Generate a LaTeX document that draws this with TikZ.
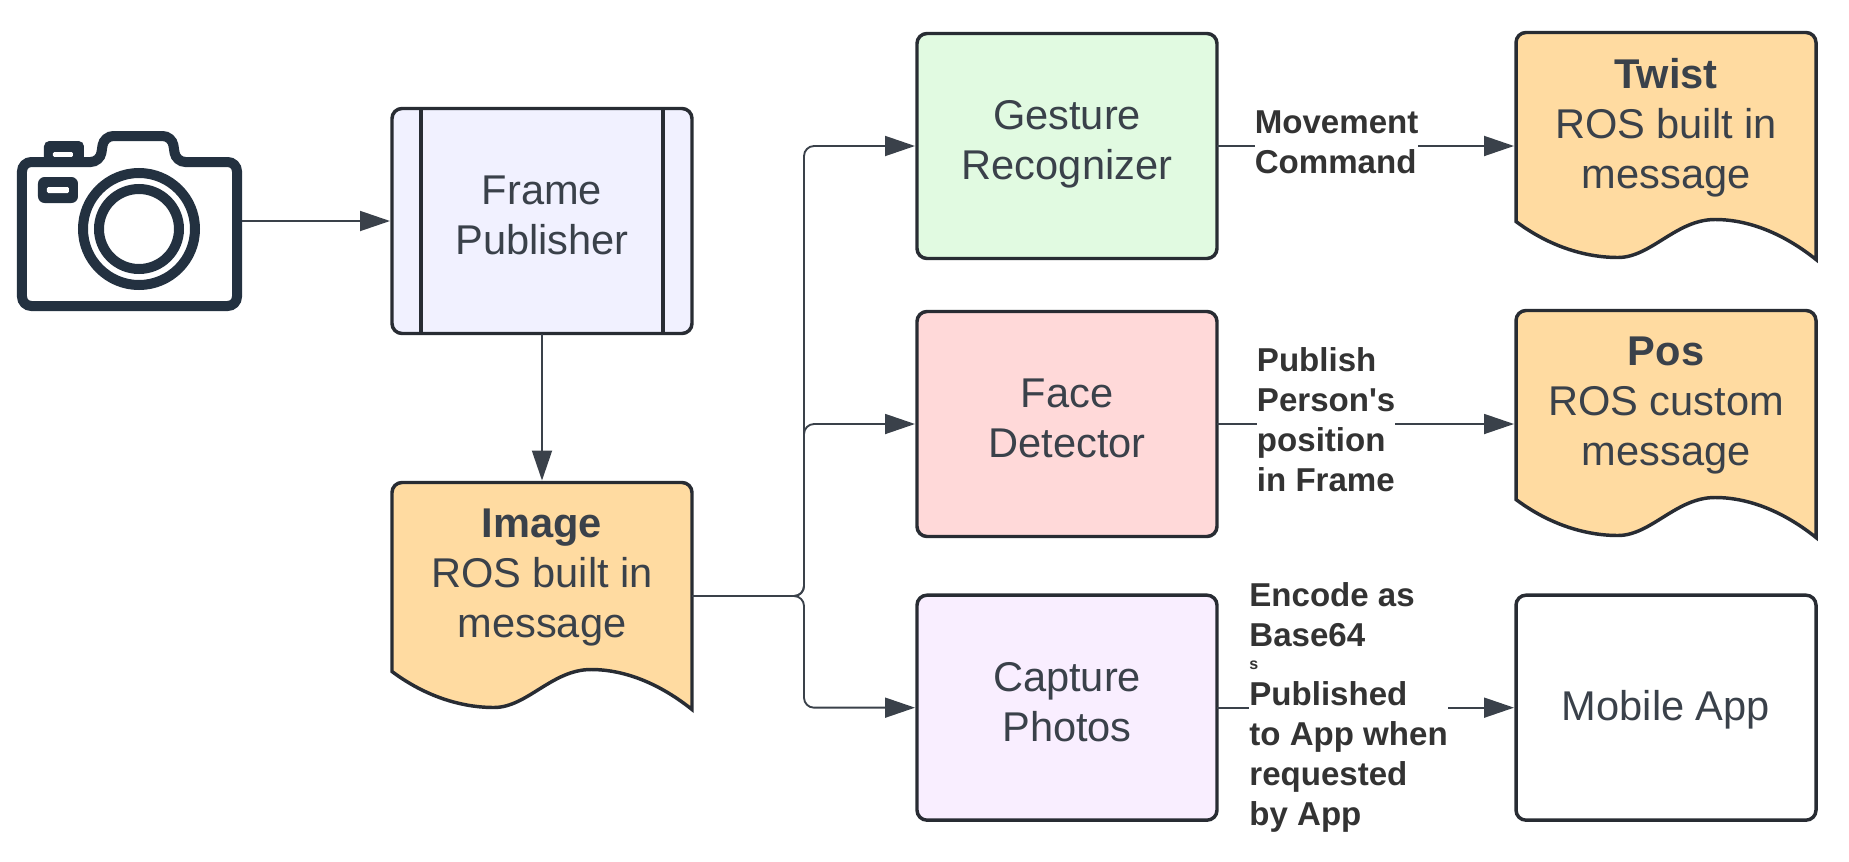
\documentclass[tikz,border=0pt]{standalone}
\usepackage{fontspec}
\setmainfont{Liberation Sans}[Ligatures=TeXOff]
\usepackage{xcolor}
\usepackage{tikz}
\usetikzlibrary{arrows.meta,positioning,calc,backgrounds}
\definecolor{linecol}{HTML}{282C33}
\definecolor{arrcol}{HTML}{3A414A}
\definecolor{camcol}{HTML}{233140}
\definecolor{framecol}{HTML}{F1F1FF}
\definecolor{gesturecol}{HTML}{E1FAE1}
\definecolor{facecol}{HTML}{FFD9D9}
\definecolor{photocol}{HTML}{F9EEFF}
\definecolor{doccol}{HTML}{FFDBA1}
\newcommand{\docgap}{\\[-14.5pt]\mbox{}}
\newcommand{\boxtop}{\rule{0pt}{28.75pt}}
\newcommand{\boxgap}{\rule[-9pt]{0pt}{1pt}}
\newcommand{\docwave}[1]{%
  \begin{scope}[on background layer,shift={(#1.south west)}]
    \draw[line width=2.6pt,draw=linecol,fill=doccol,line join=miter]
      (0,38) .. controls (32,14) and (68,2) .. (102,2)
      .. controls (135,2) and (160,40) .. (199,40)
      .. controls (235,40) and (270,24) .. (300,0)
      [rounded corners=7.5pt] -- (300,227) -- (0,227) [sharp corners] -- cycle;
  \end{scope}}
\begin{document}
\begin{tikzpicture}[
  x=0.75pt,y=0.75pt,
  box/.style={draw=linecol,line width=2.6pt,rounded corners=7.5pt,minimum width=225pt,
              minimum height=168.75pt,outer sep=0pt,align=center,text=arrcol,
              font=\fontsize{31.2pt}{37.5pt}\selectfont,
              execute at begin node=\boxtop},
  docbox/.style={minimum width=225pt,minimum height=170.25pt,outer sep=0pt,align=center,
              text=arrcol,font=\fontsize{31.2pt}{37.5pt}\selectfont,
              execute at begin node=\strut},
  lbl/.style={fill=white,align=left,inner sep=0pt,text=black!80,
              font=\bfseries\fontsize{24.8pt}{30pt}\selectfont},
  arr/.style={-{Triangle[length=22.5pt,width=15pt]},line width=1.4pt,draw=arrcol,
              shorten >=1.5pt}
]
\useasboundingbox (-130,221) rectangle (1719,-640);
\node[minimum width=168pt,minimum height=135pt,outer sep=0pt] (camera) at (0,0) {};
\node[box,fill=framecol,right=112.5pt of camera] (frame) {Frame\\Publisher\boxgap};
\node[docbox,below=111.75pt of frame] (image) {\textbf{Image}\\ROS built in\\message\docgap};
\node[box,fill=gesturecol,right=168.75pt of frame,yshift=56.25pt] (gesture) {Gesture\\Recognizer\boxgap};
\node[box,fill=facecol,below=39.75pt of gesture] (face) {Face\\Detector\boxgap};
\node[box,fill=photocol,below=44pt of face] (photos) {Capture\\Photos\boxgap};
\node[docbox,right=224.25pt of gesture] (twist) {\textbf{Twist}\\ROS built in\\message\docgap};
\node[docbox,right=224.25pt of face] (pos) {\textbf{Pos}\\ROS custom\\message\docgap};
\node[box,right=224.25pt of photos] (app) {Mobile App\boxgap};
\docwave{image}
\docwave{twist}
\docwave{pos}
% camera icon
\begin{scope}[shift={(camera.center)},line width=7.5pt,draw=camcol]
  \fill[camcol,rounded corners=4pt] (-86,55) -- (-86,80) -- (-46,80) -- (-46,55) -- cycle;
  \fill[white,rounded corners=1pt] (-77,64) -- (-77,69) -- (-57,69) -- (-57,64) -- cycle;
  \draw[camcol,fill=white,rounded corners=7pt] (-108,59) -- (-30,59) -- (-26,85) -- (42,85)
    -- (46,59) -- (107,59) -- (107,-85) -- (-108,-85) -- cycle;
  \fill[camcol,rounded corners=5pt] (-92,44) rectangle (-52,18);
  \fill[white,rounded corners=1pt] (-83,34) rectangle (-61,28);
  \draw[camcol] (9,-8) circle (56);
  \draw[camcol] (9,-8) circle (40);
\end{scope}
\draw[line width=2.6pt,draw=linecol] ([xshift=21.75pt]frame.north west) -- ([xshift=21.75pt]frame.south west);
\draw[line width=2.6pt,draw=linecol] ([xshift=-21.75pt]frame.north east) -- ([xshift=-21.75pt]frame.south east);
\coordinate (bus) at ($(image.east)+(84pt,0)$);
\draw[arr] (camera) -- (frame);
\draw[arr] (frame) -- (image);
\draw[arr,rounded corners=7.5pt] (image.east) -- (bus) |- (gesture.west);
\draw[arr,rounded corners=7.5pt] (image.east) -- (bus) |- (face.west);
\draw[arr,rounded corners=7.5pt] (image.east) -- (bus) |- (photos.west);
\draw[arr] (gesture) -- node[lbl,pos=0.4,yshift=3pt] (movelbl) {Movement\\Command} (twist);
\draw[arr] (face) -- node[lbl,pos=0.365,yshift=3pt] (poslbl) {Publish\\Person's\\position\\in Frame} (pos);
\draw[arr] (photos) -- node[lbl,pos=0.44,yshift=0.5pt] (applbl) {Encode as\\Base64\\[-12.3pt]{\fontsize{12pt}{12pt}\selectfont s}\\[-3.5pt]Published\\to App when\\requested\\by App} (app);
\end{tikzpicture}
\end{document}
